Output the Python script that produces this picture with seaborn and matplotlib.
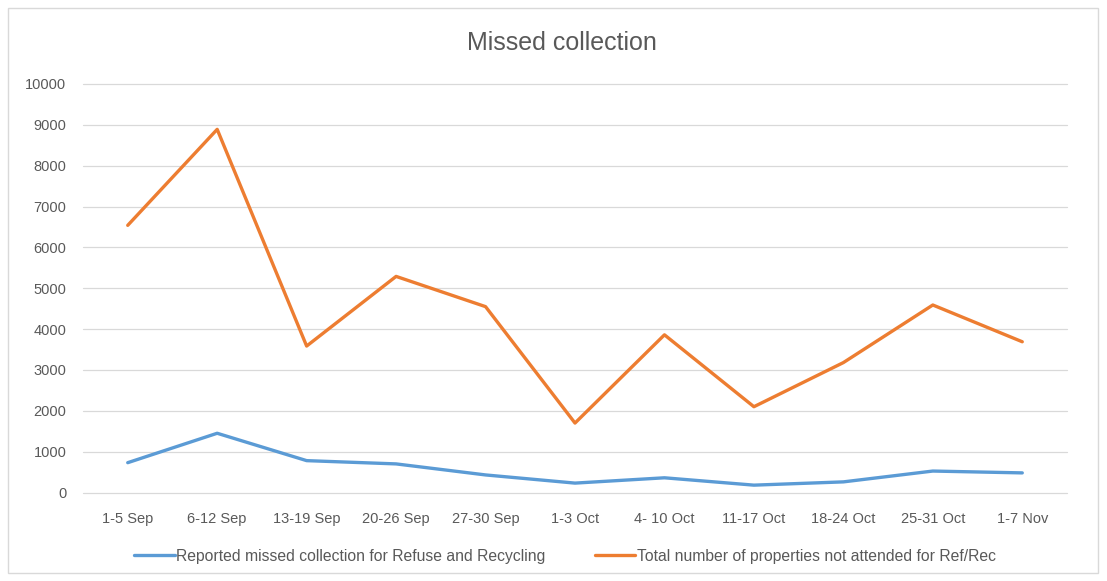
import matplotlib
matplotlib.use("Agg")
import matplotlib.pyplot as plt
import seaborn as sns
import pandas as pd
from matplotlib.patches import Rectangle
from matplotlib.lines import Line2D

weeks = ["1-5 Sep", "6-12 Sep", "13-19 Sep", "20-26 Sep", "27-30 Sep", "1-3 Oct",
         "4- 10 Oct", "11-17 Oct", "18-24 Oct", "25-31 Oct", "1-7 Nov"]
reported_missed = [730, 1450, 780, 700, 430, 230, 360, 180, 260, 525, 480]
not_attended = [6540, 8890, 3585, 5290, 4550, 1700, 3860, 2100, 3180, 4590, 3690]
series_names = ["Reported missed collection for Refuse and Recycling",
                "Total number of properties not attended for Ref/Rec"]
yticks = list(range(0, 10001, 1000))

sns.set_theme(style="white")
plt.rcParams['font.family'] = ['Liberation Sans', 'DejaVu Sans']

df = pd.DataFrame({
    "week": weeks * 2,
    "pos": list(range(len(weeks))) * 2,
    "value": reported_missed + not_attended,
    "series": [series_names[0]] * len(weeks) + [series_names[1]] * len(weeks),
})

W, H = 1107, 581
fig = plt.figure(figsize=(W / 100, H / 100), dpi=100)
fig.patches.append(Rectangle((8 / W, 8 / H), 1090 / W, 565 / H, transform=fig.transFigure,
                             fill=False, edgecolor="#D9D9D9", linewidth=1))
ax = fig.add_axes([83 / W, 88.5 / H, (1067 - 83) / W, (492.5 - 84) / H])

sns.lineplot(data=df, x="pos", y="value", hue="series",
             palette=["#5B9BD5", "#ED7D31"], linewidth=2.4, ax=ax, legend=False,
             solid_capstyle="round")

ax.set_xlim(-0.5, len(weeks) - 0.5)
ax.set_ylim(0, 10000)
ax.set_yticks(yticks)
ax.set_yticklabels([str(t) for t in yticks])
ax.set_xticks(range(len(weeks)))
ax.set_xticklabels(weeks)
ax.yaxis.grid(True, color="#D9D9D9", linewidth=0.9)
for gl in ax.get_ygridlines():
    gl.set_clip_on(False)
ax.set_axisbelow(True)
for s in ax.spines.values():
    s.set_visible(False)
ax.tick_params(axis="both", length=0, labelsize=10.5, labelcolor="#595959")
ax.tick_params(axis="y", pad=12)
ax.tick_params(axis="x", pad=14)
ax.set_xlabel("")
ax.set_ylabel("")

fig.text(562 / W, 1 - 43 / H, "Missed collection", ha="center", va="center",
         fontsize=18, color="#595959")

handles = [Line2D([], [], color="#5B9BD5", linewidth=2.4),
           Line2D([], [], color="#ED7D31", linewidth=2.4)]
leg = fig.legend(handles, series_names, loc="center", bbox_to_anchor=(565 / W, 1 - 556 / H),
                 ncol=2, frameon=False, handlelength=2.6,
                 handletextpad=0.1, columnspacing=3.1,
                 prop={"family": ["Liberation Sans", "DejaVu Sans"], "size": 11.3})
for t in leg.get_texts():
    t.set_color("#595959")

fig.savefig("out.png", dpi=100)
